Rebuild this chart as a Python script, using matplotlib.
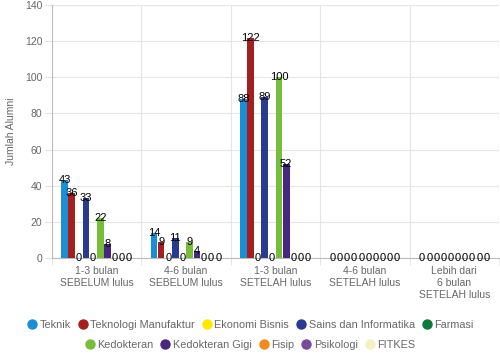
import matplotlib
matplotlib.use("Agg")
import matplotlib.pyplot as plt
from matplotlib.lines import Line2D
import numpy as np

plt.rcParams['font.family'] = ['Liberation Sans', 'DejaVu Sans']

categories = ["1-3 bulan\nSEBELUM lulus", "4-6 bulan\nSEBELUM lulus", "1-3 bulan\nSETELAH lulus",
              "4-6 bulan\nSETELAH lulus", "Lebih dari\n6 bulan\nSETELAH lulus"]
series_names = ["Teknik", "Teknologi Manufaktur", "Ekonomi Bisnis", "Sains dan Informatika", "Farmasi",
                "Kedokteran", "Kedokteran Gigi", "Fisip", "Psikologi", "FITKES"]
teknik = [43, 14, 88, 0, 0]
tek_manuf = [36, 9, 122, 0, 0]
ekonomi = [0, 0, 0, 0, 0]
sains = [33, 11, 89, 0, 0]
farmasi = [0, 0, 0, 0, 0]
kedokteran = [22, 9, 100, 0, 0]
ked_gigi = [8, 4, 52, 0, 0]
fisip = [0, 0, 0, 0, 0]
psikologi = [0, 0, 0, 0, 0]
fitkes = [0, 0, 0, 0, 0]
values = [teknik, tek_manuf, ekonomi, sains, farmasi, kedokteran, ked_gigi, fisip, psikologi, fitkes]
colors = ["#1a8fd6", "#a3201f", "#ffe800", "#293b8f", "#0d7a3c", "#76be3a", "#48277f", "#f28a1e",
          "#7b4a9b", "#f4f0c2"]

fig = plt.figure(figsize=(5, 3.59), dpi=100)
ax = fig.add_axes([0.104, 0.281, 0.894, 0.705])

n = len(series_names)
group_w = 0.8
bw = group_w / n
x = np.arange(len(categories))
for i, (name, vals, c) in enumerate(zip(series_names, values, colors)):
    pos = x - group_w / 2 + bw * (i + 0.5)
    ax.bar(pos, vals, width=bw * 0.92, color=c, zorder=3)
    for p, v in zip(pos, vals):
        ax.text(p, v, str(v), ha='center', va='center', fontsize=8, color='black', zorder=4)

ax.set_xlim(-0.5, len(categories) - 0.5)
ax.set_ylim(0, 140)
ax.set_yticks(range(0, 141, 20))
ax.set_xticks(x)
ax.set_xticklabels(categories, fontsize=7.5, color='#666666', linespacing=1.25)
ax.set_xticks(np.arange(-0.5, len(categories), 1), minor=True)
ax.tick_params(axis='x', which='major', length=0, pad=6)
ax.tick_params(axis='x', which='minor', length=5, color='#e0e0e0')
ax.tick_params(axis='y', length=5, color='#e0e0e0', labelsize=7.5, labelcolor='#666666', pad=2)
ax.grid(True, axis='y', color='#e5e5e5', lw=0.8, zorder=0)
ax.grid(True, axis='x', which='minor', color='#e5e5e5', lw=0.8, zorder=0)
for s in ['top', 'right']:
    ax.spines[s].set_visible(False)
ax.spines['left'].set_color('#bbbbbb')
ax.spines['bottom'].set_color('#bbbbbb')
ax.set_ylabel("Jumlah Alumni", fontsize=7.5, color='#666666', labelpad=6)

def handles(idx):
    return [Line2D([], [], marker='o', ls='none', markersize=6.5, markerfacecolor=colors[i],
                   markeredgecolor=colors[i]) for i in idx]

leg1 = fig.legend(handles(range(5)), series_names[:5], loc='center', bbox_to_anchor=(0.5, 0.095),
                  ncol=5, frameon=False, fontsize=7.8, handletextpad=0.2, columnspacing=0.6,
                  labelcolor='#666666', handlelength=1.0)
leg2 = fig.legend(handles(range(5, 10)), series_names[5:], loc='center', bbox_to_anchor=(0.5, 0.04),
                  ncol=5, frameon=False, fontsize=7.8, handletextpad=0.2, columnspacing=0.6,
                  labelcolor='#666666', handlelength=1.0)

fig.savefig("out.png", dpi=100)
